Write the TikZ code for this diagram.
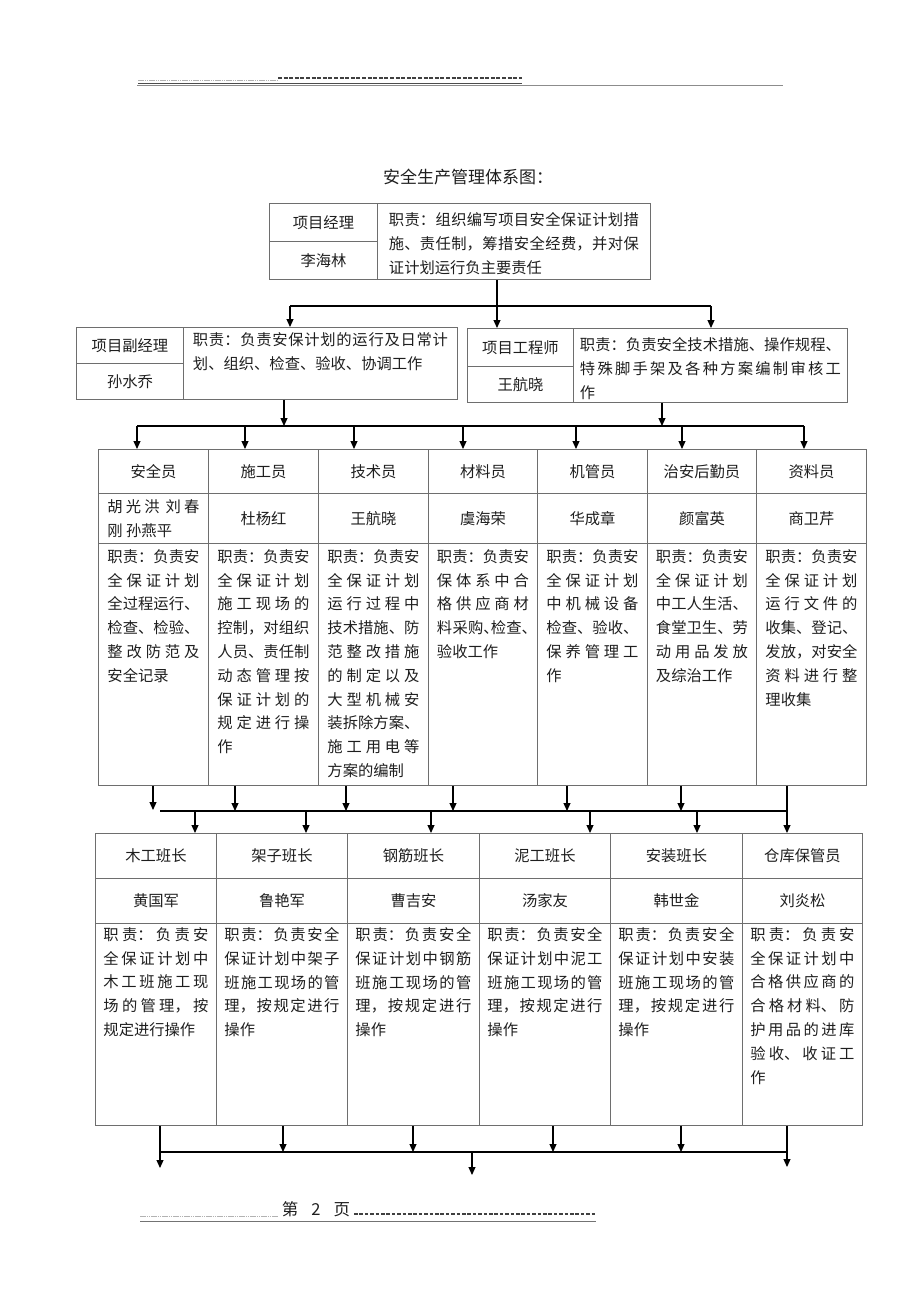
\documentclass[tikz,border=0pt]{standalone}
\usepackage{fontspec}
\setmainfont{Noto Sans CJK SC}
\usepackage{tikz}
\usetikzlibrary{arrows.meta}
\XeTeXlinebreaklocale "zh"
\XeTeXlinebreakskip=0pt plus 2pt
\hbadness=10000 \hfuzz=3pt
\definecolor{rulegray}{HTML}{6E6E6E}
\definecolor{inkgray}{HTML}{1E1E1E}

% label cell: name, x, y, width, height, text
\newcommand{\labelcell}[6]{\node[cell,minimum width=#4pt,minimum height=#5pt] (#1) at (#2,#3) {#6};}
% duty cell: [top gap], name, x, y, width, height, text width, text
\newcommand{\dutycell}[8][6]{\node[cell,minimum width=#5pt,minimum height=#6pt] (#2) at (#3,#4)
  {\parbox[c][#6pt][t]{#7pt}{\vspace*{#1pt}#8}};}

\begin{document}
\begin{tikzpicture}[x=1pt,y=-1pt,>={Triangle[length=8pt,width=7pt]},
  cell/.style={draw=rulegray,line width=0.9pt,inner sep=0pt,anchor=north west,
    text=inkgray,font=\fontsize{15.3}{23.8}\selectfont},
  link/.style={line width=1.1pt,black}]
  \useasboundingbox (0,0) rectangle (920,1302);

  % page header and footer rules
  \draw[black!30,line width=0.8pt,dash pattern=on 1.5pt off 0.7pt] (138,80) -- (278,80);
  \draw[black!75,line width=1.5pt,dash pattern=on 4pt off 1.6pt] (278,78) -- (522,78);
  \draw[black!70,line width=0.8pt] (138,83.5) -- (522,83.5);
  \draw[black!45,line width=0.8pt] (137,85.8) -- (783,85.8);
  \node[text=inkgray,font=\fontsize{16.5}{18}\selectfont] (pageno) at (316,1209) {第\hspace{13pt}2\hspace{13pt}页};
  \draw[black!30,line width=0.8pt,dash pattern=on 1.5pt off 0.7pt] (140,1216) -- (278,1216);
  \draw[black!75,line width=1.2pt,dash pattern=on 3.6pt off 1.8pt] (354,1214) -- (596,1214);
  \draw[black!55,line width=0.8pt] (140,1221) -- (596,1221);

  \node[text=inkgray,font=\fontsize{17}{20}\selectfont] (title) at (468,177) {安全生产管理体系图：};

  % project manager
  \labelcell{pmrole}{269}{203}{108}{38}{项目经理}
  \labelcell{pmname}{269}{241}{108}{38}{李海林}
  \dutycell[9]{pmduty}{377}{203}{273}{76}{250}{职责：组织编写项目安全保证计划措\break 施、责任制，筹措安全经费，并对保\break 证计划运行负主要责任}

  % deputy manager and engineer
  \labelcell{dpmrole}{76}{327}{107}{36}{项目副经理}
  \labelcell{dpmname}{76}{363}{107}{36}{孙水乔}
  \dutycell[5]{dpmduty}{183}{327}{274}{72}{255}{职责：负责安保计划的运行及日常计\break 划、组织、检查、验收、协调工作}
  \labelcell{perole}{467}{328}{106}{38}{项目工程师}
  \labelcell{pename}{467}{366}{106}{36}{王航晓}
  \dutycell[9]{peduty}{573}{328}{274}{74}{261}{职责：负责安全技术措施、操作规程、\break 特殊脚手架及各种方案编制审核工\break 作}

  % staff table
  \labelcell{mrole1}{98}{449}{110}{44}{安全员}
  \labelcell{mrole2}{208}{449}{110}{44}{施工员}
  \labelcell{mrole3}{318}{449}{110}{44}{技术员}
  \labelcell{mrole4}{428}{449}{109}{44}{材料员}
  \labelcell{mrole5}{537}{449}{110}{44}{机管员}
  \labelcell{mrole6}{647}{449}{109}{44}{治安后勤员}
  \labelcell{mrole7}{756}{449}{110}{44}{资料员}
  \labelcell{mname1}{98}{493}{110}{50}{\parbox{92pt}{胡光洪 刘春\break 刚 孙燕平}}
  \labelcell{mname2}{208}{493}{110}{50}{杜杨红}
  \labelcell{mname3}{318}{493}{110}{50}{王航晓}
  \labelcell{mname4}{428}{493}{109}{50}{虞海荣}
  \labelcell{mname5}{537}{493}{110}{50}{华成章}
  \labelcell{mname6}{647}{493}{109}{50}{颜富英}
  \labelcell{mname7}{756}{493}{110}{50}{商卫芹}
  \dutycell{mduty1}{98}{543}{110}{242}{92}{职责：负责安\break 全保证计划\break 全过程运行、\break 检查、检验、\break 整改防范及\break 安全记录}
  \dutycell{mduty2}{208}{543}{110}{242}{92}{职责：负责安\break 全保证计划\break 施工现场的\break 控制，对组织\break 人员、责任制\break 动态管理按\break 保证计划的\break 规定进行操\break 作}
  \dutycell{mduty3}{318}{543}{110}{242}{92}{职责：负责安\break 全保证计划\break 运行过程中\break 技术措施、防\break 范整改措施\break 的制定以及\break 大型机械安\break 装拆除方案、\break 施工用电等\break 方案的编制}
  \dutycell{mduty4}{428}{543}{109}{242}{92}{职责：负责安\break 保体系中合\break 格供应商材\break 料采购、\kern-8pt检查、\kern-8pt\break 验收工作}
  \dutycell{mduty5}{537}{543}{110}{242}{92}{职责：负责安\break 全保证计划\break 中机械设备\break 检查、验收、\break 保养管理工\break 作}
  \dutycell{mduty6}{647}{543}{109}{242}{92}{职责：负责安\break 全保证计划\break 中工人生活、\break 食堂卫生、劳\break 动用品发放\break 及综治工作}
  \dutycell{mduty7}{756}{543}{110}{242}{92}{职责：负责安\break 全保证计划\break 运行文件的\break 收集、登记、\break 发放，对安全\break 资料进行整\break 理收集}

  % team leader table
  \labelcell{lrole1}{95}{833}{121}{45}{木工班长}
  \labelcell{lrole2}{216}{833}{131}{45}{架子班长}
  \labelcell{lrole3}{347}{833}{132}{45}{钢筋班长}
  \labelcell{lrole4}{479}{833}{131}{45}{泥工班长}
  \labelcell{lrole5}{610}{833}{132}{45}{安装班长}
  \labelcell{lrole6}{742}{833}{120}{45}{仓库保管员}
  \labelcell{lname1}{95}{878}{121}{45}{黄国军}
  \labelcell{lname2}{216}{878}{131}{45}{鲁艳军}
  \labelcell{lname3}{347}{878}{132}{45}{曹吉安}
  \labelcell{lname4}{479}{878}{131}{45}{汤家友}
  \labelcell{lname5}{610}{878}{132}{45}{韩世金}
  \labelcell{lname6}{742}{878}{120}{45}{刘炎松}
  \dutycell[4]{lduty1}{95}{923}{121}{202}{105}{职责：负责安\break 全保证计划中\break 木工班施工现\break 场的管理，按\break 规定进行操作}
  \dutycell[4]{lduty2}{216}{923}{131}{202}{115}{职责：负责安全\break 保证计划中架子\break 班施工现场的管\break 理，按规定进行\break 操作}
  \dutycell[4]{lduty3}{347}{923}{132}{202}{116}{职责：负责安全\break 保证计划中钢筋\break 班施工现场的管\break 理，按规定进行\break 操作}
  \dutycell[4]{lduty4}{479}{923}{131}{202}{115}{职责：负责安全\break 保证计划中泥工\break 班施工现场的管\break 理，按规定进行\break 操作}
  \dutycell[4]{lduty5}{610}{923}{132}{202}{116}{职责：负责安全\break 保证计划中安装\break 班施工现场的管\break 理，按规定进行\break 操作}
  \dutycell[4]{lduty6}{742}{923}{120}{202}{104}{职责：负责安\break 全保证计划中\break 合格供应商的\break 合格材料、防\break 护用品的进库\break 验收、收证工\break 作}

  % bus points
  \coordinate (b0) at (497,306); \coordinate (bl) at (290,306); \coordinate (br) at (711,306);
  \coordinate (m0) at (284,426); \coordinate (m8) at (662,426);
  \coordinate (mt1) at (137,426); \coordinate (mt2) at (245,426); \coordinate (mt3) at (354,426);
  \coordinate (mt4) at (463,426); \coordinate (mt5) at (576,426); \coordinate (mt6) at (682,426);
  \coordinate (mt7) at (804,426);
  \coordinate (lu1) at (153,810); \coordinate (lu2) at (235,811); \coordinate (lu3) at (346,811);
  \coordinate (lu4) at (453,811); \coordinate (lu5) at (567,811); \coordinate (lu6) at (681,811);
  \coordinate (ls) at (160,811); \coordinate (le) at (787,811);
  \coordinate (lt1) at (195,811); \coordinate (lt2) at (306,811); \coordinate (lt3) at (431,811);
  \coordinate (lt4) at (590,811); \coordinate (lt5) at (697,811);
  \coordinate (bs) at (160,1152); \coordinate (be) at (787,1152);
  \coordinate (bd2) at (283,1152); \coordinate (bd3) at (413,1152); \coordinate (bd4) at (553,1152);
  \coordinate (bd5) at (681,1152); \coordinate (bm) at (472,1152);
  \coordinate (end1) at (160,1168); \coordinate (end6) at (787,1167); \coordinate (endm) at (472,1175);

  \draw[link] (bl) -- (br);
  \path[link,->] (pmduty.south -| b0) edge (perole.north -| b0)
    (bl) edge (dpmduty.north -| bl)
    (br) edge (peduty.north -| br);

  \draw[link] (mt1) -- (mt7);
  \path[link,->] (dpmduty.south -| m0) edge (m0)
    (peduty.south -| m8) edge (m8)
    (mt1) edge (mrole1.north -| mt1)
    (mt2) edge (mrole2.north -| mt2)
    (mt3) edge (mrole3.north -| mt3)
    (mt4) edge (mrole4.north -| mt4)
    (mt5) edge (mrole5.north -| mt5)
    (mt6) edge (mrole6.north -| mt6)
    (mt7) edge (mrole7.north -| mt7);

  \draw[link] (ls) -- (le);
  \path[link,->] (mduty1.south -| lu1) edge (lu1)
    (mduty2.south -| lu2) edge (lu2)
    (mduty3.south -| lu3) edge (lu3)
    (mduty4.south -| lu4) edge (lu4)
    (mduty5.south -| lu5) edge (lu5)
    (mduty6.south -| lu6) edge (lu6)
    (mduty7.south -| le) edge (lrole6.north -| le)
    (lt1) edge (lrole1.north -| lt1)
    (lt2) edge (lrole2.north -| lt2)
    (lt3) edge (lrole3.north -| lt3)
    (lt4) edge (lrole4.north -| lt4)
    (lt5) edge (lrole5.north -| lt5);

  \draw[link] (bs) -- (be);
  \path[link,->] (lduty1.south -| end1) edge (end1)
    (lduty2.south -| bd2) edge (bd2)
    (lduty3.south -| bd3) edge (bd3)
    (lduty4.south -| bd4) edge (bd4)
    (lduty5.south -| bd5) edge (bd5)
    (lduty6.south -| end6) edge (end6)
    (bm) edge (endm);
\end{tikzpicture}
\end{document}
